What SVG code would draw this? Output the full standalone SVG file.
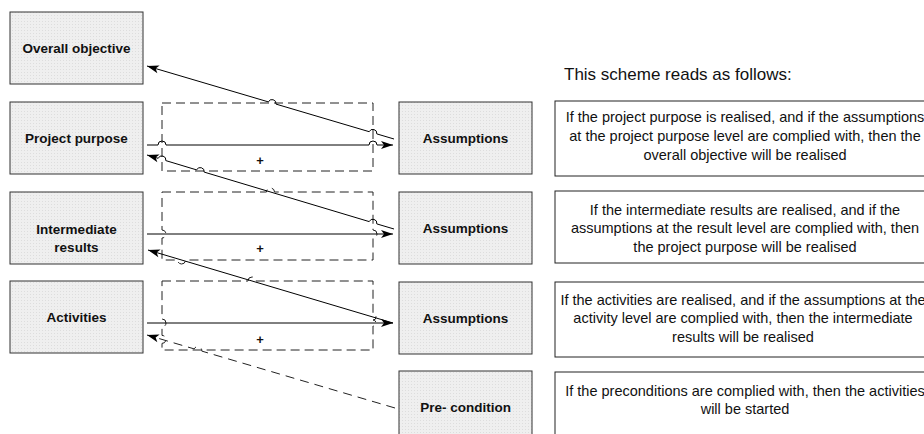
<svg xmlns="http://www.w3.org/2000/svg" width="924" height="434" viewBox="0 0 924 434">
  <defs>
    <!-- fine grey grid fill used by the level boxes -->
    <pattern id="grid" width="3" height="3" patternUnits="userSpaceOnUse">
      <rect width="3" height="3" fill="#efefef"/>
      <rect width="1" height="1" fill="#dddddd"/>
    </pattern>
    <marker id="arrow" markerUnits="userSpaceOnUse" markerWidth="14" markerHeight="10" refX="12" refY="4" orient="auto" overflow="visible">
      <path d="M0,0 L12,4 L0,8 L3,4 Z" fill="#000" stroke="none"/>
    </marker>
    <style>
      .box { fill: url(#grid); stroke: #333; stroke-width: 1; }
      .note { fill: #fff; stroke: #222; stroke-width: 1; }
      .lbl { font-family: "Liberation Sans", Arial, sans-serif; font-weight: bold; font-size: 13.5px; fill: #111; text-anchor: middle; }
      .txt { font-family: "Liberation Sans", Arial, sans-serif; font-size: 14.5px; fill: #111; text-anchor: middle; }
      .head { font-family: "Liberation Sans", Arial, sans-serif; font-size: 17px; fill: #111; }
      .plus { font-family: "Liberation Sans", Arial, sans-serif; font-weight: bold; font-size: 13px; fill: #111; text-anchor: middle; }
      .frame { fill: none; stroke: #222; stroke-width: 1; stroke-dasharray: 9 5; }
      .link { fill: none; stroke: #000; stroke-width: 1; }
      .dash { stroke: #222; stroke-dasharray: 9 6; }
    </style>
  </defs>

  <rect width="924" height="434" fill="#fff"/>

  <!-- left column: intervention levels -->
  <g id="overall-objective">
    <rect class="box" x="10" y="12" width="133" height="72"/>
    <text class="lbl" x="76.5" y="53">Overall objective</text>
  </g>
  <g id="project-purpose">
    <rect class="box" x="10" y="102" width="133" height="72"/>
    <text class="lbl" x="76.5" y="143">Project purpose</text>
  </g>
  <g id="intermediate-results">
    <rect class="box" x="10" y="192" width="133" height="72"/>
    <text class="lbl" x="76.5" y="234">Intermediate</text>
    <text class="lbl" x="76.5" y="252">results</text>
  </g>
  <g id="activities">
    <rect class="box" x="10" y="281" width="133" height="72"/>
    <text class="lbl" x="76.5" y="322">Activities</text>
  </g>

  <!-- middle column: assumptions and pre-condition -->
  <g id="assumptions-1">
    <rect class="box" x="399" y="102" width="133" height="72"/>
    <text class="lbl" x="465.5" y="143">Assumptions</text>
  </g>
  <g id="assumptions-2">
    <rect class="box" x="399" y="192" width="133" height="72"/>
    <text class="lbl" x="465.5" y="233">Assumptions</text>
  </g>
  <g id="assumptions-3">
    <rect class="box" x="399" y="282" width="133" height="72"/>
    <text class="lbl" x="465.5" y="323">Assumptions</text>
  </g>
  <g id="pre-condition">
    <rect class="box" x="399" y="371" width="133" height="72"/>
    <text class="lbl" x="465.5" y="412">Pre- condition</text>
  </g>

  <!-- dashed "+" frames combining level and assumptions -->
  <g id="frames">
    <path class="frame" d="M162,103 H373 V171 H162 Z"/>
    <path class="frame" d="M162,192 H266.5 A4,4 0 0 1 274.5,192 H373 V230 A4,4 0 0 1 373,238 V260 H185.6 A4,4 0 0 1 177.6,260 H162 V238 A4,4 0 0 0 162,230 Z"/>
    <path class="frame" d="M162,281 H248 A4,4 0 0 1 256,281 H373 V314 A3,3 0 0 1 373,320 A3,3 0 0 1 373,326 V350 H162 V343.4 A4,4 0 0 0 162,335.4 V327 A4,4 0 0 0 162,319 Z"/>
    <text class="plus" x="260" y="165">+</text>
    <text class="plus" x="260" y="253">+</text>
    <text class="plus" x="260" y="344">+</text>
  </g>

  <!-- connectors with line jumps at crossings -->
  <g id="connectors">
    <path class="link" marker-end="url(#arrow)" d="M394,139 L376.8,133.9 A4,4 0 0 0 369.2,131.7 L276,104.1 A4,4 0 0 0 268.4,101.9 L147,66"/>
    <path class="link" marker-end="url(#arrow)" d="M147,145 H158 A4,4 0 0 1 166,145 H369 A4,4 0 0 1 377,145 H393"/>
    <path class="link" marker-end="url(#arrow)" d="M394,229 L376.8,223.9 A4,4 0 0 0 369.2,221.6 L204.2,172.1 A4,4 0 0 0 196.6,169.9 L165.8,160.6 A4,4 0 0 0 158.2,158.3 L147,155"/>
    <path class="link" marker-end="url(#arrow)" d="M147,234 H393"/>
    <path class="link" marker-end="url(#arrow)" d="M393,323 L148,250"/>
    <path class="link" marker-end="url(#arrow)" d="M147,323 H393"/>
    <path class="link dash" marker-end="url(#arrow)" d="M395,408 L201.8,351.1 A4,4 0 0 0 194.2,348.9 L147,335"/>
  </g>

  <!-- right column: reading of the scheme -->
  <text class="head" x="564" y="80">This scheme reads as follows:</text>
  <g id="note-1">
    <rect class="note" x="555" y="101" width="380" height="75"/>
    <text class="txt" x="745" y="122">If the project purpose is realised, and if the assumptions</text>
    <text class="txt" x="745" y="141">at the project purpose level are complied with, then the</text>
    <text class="txt" x="745" y="160">overall objective will be realised</text>
  </g>
  <g id="note-2">
    <rect class="note" x="555" y="191" width="380" height="72"/>
    <text class="txt" x="745" y="215">If the intermediate results are realised, and if the</text>
    <text class="txt" x="745" y="233">assumptions at the result level are complied with, then</text>
    <text class="txt" x="745" y="252">the project purpose will be realised</text>
  </g>
  <g id="note-3">
    <rect class="note" x="555" y="282" width="380" height="75"/>
    <text class="txt" x="743" y="305">If the activities are realised, and if the assumptions at the</text>
    <text class="txt" x="743" y="323">activity level are complied with, then the intermediate</text>
    <text class="txt" x="743" y="342">results will be realised</text>
  </g>
  <g id="note-4">
    <rect class="note" x="555" y="372" width="380" height="80"/>
    <text class="txt" x="745" y="396">If the preconditions are complied with, then the activities</text>
    <text class="txt" x="745" y="414">will be started</text>
  </g>
</svg>
